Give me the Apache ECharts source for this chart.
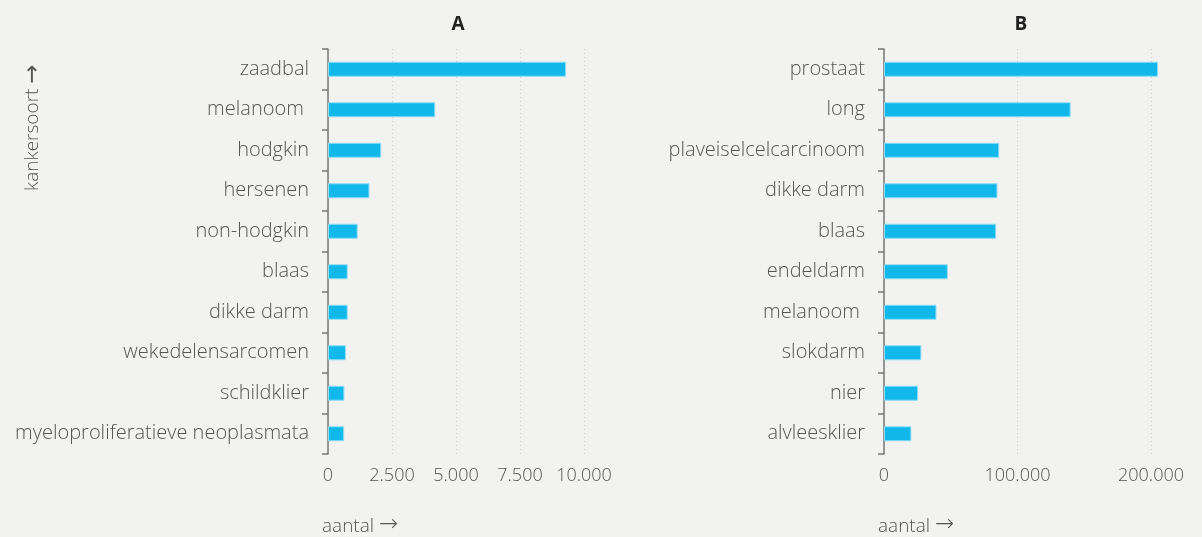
<!DOCTYPE html>
<html>
<head>
<meta charset="utf-8">
<script src="https://cdn.jsdelivr.net/npm/echarts@6/dist/echarts.min.js"></script>
<style>
	html, body { margin: 0; padding: 0; background: #f2f2f1; }
	#chart { width: 1202px; height: 537px; }
</style>
</head>
<body>
<div id="chart"></div>
<script>
// data
var catsA = ['zaadbal', 'melanoom ', 'hodgkin', 'hersenen', 'non-hodgkin', 'blaas', 'dikke darm', 'wekedelensarcomen', 'schildklier', 'myeloproliferatieve neoplasmata'];
var valsA = [9300, 4190, 2080, 1620, 1160, 770, 770, 700, 640, 630];
var catsB = ['prostaat', 'long', 'plaveiselcelcarcinoom', 'dikke darm', 'blaas', 'endeldarm', 'melanoom ', 'slokdarm', 'nier', 'alvleesklier'];
var valsB = [205300, 139800, 86300, 85000, 84000, 47800, 39300, 28000, 25500, 20500];
var titles = ['A', 'B'];

var fontFam = '"Open Sans", sans-serif';
var textColor = '#555';
var arrowStyle = { fontFamily: '"DejaVu Sans"', fontSize: 23, color: '#555', padding: [0, 0, 2, 0] };

function fmt(v) {
	return String(v).replace(/\B(?=(\d{3})+(?!\d))/g, '.');
}

function xAxisOf(idx, max, interval) {
	return {
		gridIndex: idx,
		type: 'value',
		min: 0,
		max: max,
		interval: interval,
		name: 'aantal {a|\u2192}',
		nameLocation: 'start',
		nameGap: 0,
		nameTextStyle: {
			color: textColor,
			fontFamily: fontFam,
			fontWeight: 300,
			fontSize: 19,
			align: 'left',
			verticalAlign: 'top',
			padding: [60, 0, 0, -6],
			rich: { a: arrowStyle }
		},
		axisLine: { show: false },
		axisTick: { show: false },
		splitLine: {
			show: true,
			lineStyle: { color: '#c8c8c8', type: [1, 3], width: 1 }
		},
		axisLabel: {
			color: textColor,
			fontFamily: fontFam,
			fontWeight: 300,
			fontSize: 18,
			margin: 13,
			formatter: fmt
		}
	};
}

function yAxisOf(idx, cats) {
	return {
		gridIndex: idx,
		type: 'category',
		data: cats,
		inverse: true,
		axisLine: { show: true, lineStyle: { color: '#777', width: 1.5 } },
		axisTick: { show: true, length: 6, lineStyle: { color: '#777', width: 1.5 } },
		axisLabel: {
			color: textColor,
			fontFamily: fontFam,
			fontWeight: 300,
			fontSize: 20,
			margin: 19
		}
	};
}

function seriesOf(idx, vals) {
	return {
		type: 'bar',
		xAxisIndex: idx,
		yAxisIndex: idx,
		data: vals,
		barWidth: 15,
		clip: false,
		itemStyle: {
			color: '#13b8ea',
			borderColor: '#8fdcf5',
			borderWidth: 1
		},
		silent: true
	};
}

var option = {
	backgroundColor: '#f2f2f1',
	animation: false,
	title: [{
		text: titles[0],
		left: 453,
		top: 10,
		textAlign: 'center',
		textStyle: { fontFamily: fontFam, fontSize: 19, fontWeight: 'bold', color: '#222' }
	}, {
		text: titles[1],
		left: 1016,
		top: 10,
		textAlign: 'center',
		textStyle: { fontFamily: fontFam, fontSize: 19, fontWeight: 'bold', color: '#222' }
	}],
	grid: [
		{ left: 328, top: 49, width: 256, height: 407 },
		{ left: 884, top: 49, width: 267, height: 407 }
	],
	xAxis: [xAxisOf(0, 10000, 2500), xAxisOf(1, 200000, 100000)],
	yAxis: [yAxisOf(0, catsA), yAxisOf(1, catsB)],
	series: [seriesOf(0, valsA), seriesOf(1, valsB)],
	graphic: [{
		type: 'text',
		x: 33,
		y: 191,
		rotation: Math.PI / 2,
		style: {
			text: 'kankersoort {a|\u2192}',
			fill: textColor,
			font: '300 19px ' + fontFam,
			textAlign: 'left',
			textVerticalAlign: 'middle',
			rich: { a: { fontFamily: '"DejaVu Sans"', fontSize: 23, fill: '#555' } }
		}
	}]
};

var chart = echarts.init(document.getElementById('chart'));
chart.setOption(option);
</script>
</body>
</html>
